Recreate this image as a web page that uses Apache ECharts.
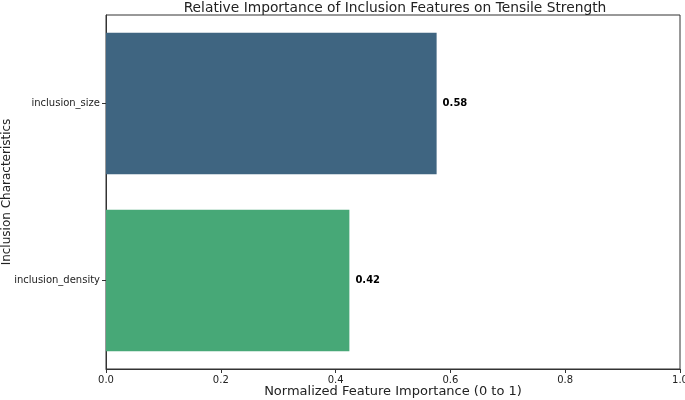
<!DOCTYPE html>
<html><head><meta charset="utf-8">
<script src="https://cdn.jsdelivr.net/npm/echarts@6/dist/echarts.min.js"></script>
<style>html,body{margin:0;padding:0;background:#fff}#c{width:685px;height:400px}</style>
</head><body><div id="c"></div>
<script>
const categories = ['inclusion_size', 'inclusion_density'];
const values = [0.576, 0.424];
const barColors = ['#3f6581', '#47a877'];
const xTicks = [0, 0.2, 0.4, 0.6, 0.8, 1.0];

const chart = echarts.init(document.getElementById('c'), null, {renderer: 'canvas'});
const font = 'DejaVu Sans';
chart.setOption({
  animation: false,
  backgroundColor: '#fff',
  title: {
    text: 'Relative Importance of Inclusion Features on Tensile Strength',
    left: 390, top: -4, textAlign: 'center',
    textStyle: {fontFamily: font, fontSize: 13.8, fontWeight: 'normal', color: '#222'}
  },
  grid: {left: 106, right: 5, top: 15, bottom: 31, containLabel: false, outerBoundsMode: 'none',
    show: true, borderColor: '#333', borderWidth: 1, backgroundColor: 'transparent'},
  xAxis: {
    type: 'value', min: 0, max: 1, interval: 0.2,
    name: 'Normalized Feature Importance (0 to 1)', nameLocation: 'middle', nameGap: 16,
    nameMoveOverlap: false,
    nameTextStyle: {fontFamily: font, fontSize: 13, color: '#222'},
    axisLine: {show: true, lineStyle: {color: '#333'}},
    axisTick: {show: true, length: 4, lineStyle: {color: '#333'}},
    axisLabel: {fontFamily: font, fontSize: 10, color: '#222', margin: 6,
      formatter: v => v.toFixed(1)},
    splitLine: {show: false}
  },
  yAxis: {
    type: 'category', data: categories, inverse: true,
    name: 'Inclusion Characteristics', nameLocation: 'middle', nameGap: 93,
    nameMoveOverlap: false,
    nameTextStyle: {fontFamily: font, fontSize: 12, color: '#222'},
    axisLine: {show: true, lineStyle: {color: '#333'}},
    axisTick: {show: true, alignWithLabel: true, length: 4, lineStyle: {color: '#333'}},
    axisLabel: {fontFamily: font, fontSize: 10, color: '#222', margin: 6},
    splitLine: {show: false}
  },
  series: [{
    type: 'bar',
    barCategoryGap: '20%',
    data: values.map((v, i) => ({value: v, itemStyle: {color: barColors[i]}})),
    label: {show: true, position: 'right', distance: 6,
      formatter: p => p.value.toFixed(2),
      fontFamily: font, fontSize: 10, fontWeight: 'bold', color: '#000'}
  }]
});
</script></body></html>
